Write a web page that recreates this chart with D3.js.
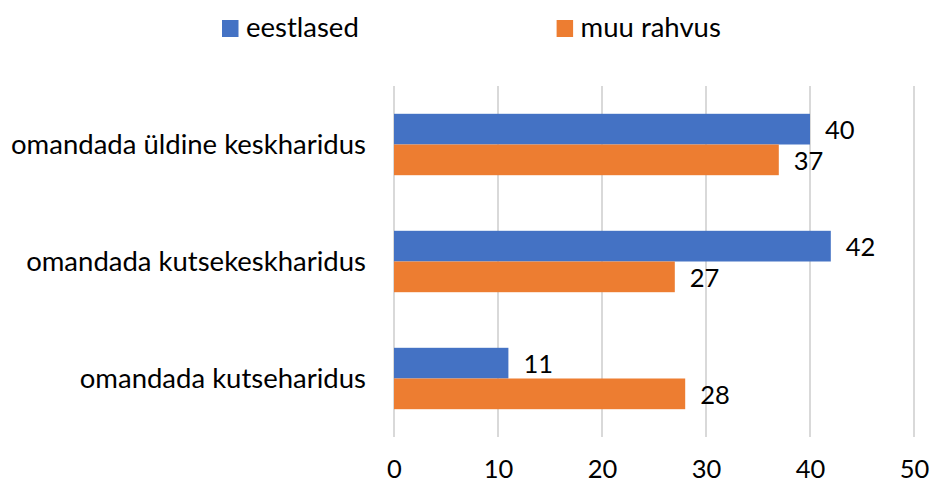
<!DOCTYPE html>
<html><head><meta charset="utf-8">
<script src="https://cdn.jsdelivr.net/npm/d3@7"></script>
<style>body{margin:0;background:#fff}svg text{font-family:Lato,"Open Sans",sans-serif;fill:#000}</style>
</head><body><svg id="c" width="932" height="485"></svg>
<script>
const categories = ["omandada üldine keskharidus","omandada kutsekeskharidus","omandada kutseharidus"];
const seriesNames = ["eestlased","muu rahvus"];
const eestlased = [40, 42, 11];
const muuRahvus = [37, 27, 28];
const tickValues = [0,10,20,30,40,50];
const colors = ["#4472C4","#ED7D31"];

const svg = d3.select("#c");
const x = d3.scaleLinear().domain([0,50]).range([394,914]);
const y = d3.scaleBand().domain(categories).range([86,437]).padding(0);
const barH = 30.7;
const fsText = 27.5;
const fsNum = 25.5;

// gridlines
svg.append("g").selectAll("line").data(tickValues).join("line")
  .attr("x1",d=>x(d)).attr("x2",d=>x(d)).attr("y1",86).attr("y2",437)
  .attr("stroke","#d9d9d9").attr("stroke-width",2);

const series = [eestlased, muuRahvus];
series.forEach((vals,si)=>{
  const g = svg.append("g");
  categories.forEach((c,i)=>{
    const y0 = y(c)+y.bandwidth()/2 - barH + si*barH;
    g.append("rect").attr("x",x(0)).attr("y",y0).attr("width",x(vals[i])-x(0)).attr("height",barH).attr("fill",colors[si]);
    g.append("text").attr("x",x(vals[i])+15).attr("y",y0+barH/2).attr("dy","0.4em")
      .attr("font-size",fsNum).text(vals[i]);
  });
});

// category labels
svg.append("g").selectAll("text").data(categories).join("text")
  .attr("x",366).attr("y",d=>y(d)+y.bandwidth()/2).attr("dy","0.36em")
  .attr("text-anchor","end").attr("font-size",fsText).text(d=>d);

// x axis labels
const ax = svg.append("g").attr("transform","translate(0,460)")
  .call(d3.axisBottom(x).tickValues(tickValues).tickSize(0).tickPadding(0));
ax.select(".domain").remove();
ax.selectAll("text").attr("font-size",fsNum).attr("font-family","Lato").attr("fill","#000").attr("dy","0.72em");

// legend
const legX = [222, 556.6];
seriesNames.forEach((n,i)=>{
  svg.append("rect").attr("x",legX[i]).attr("y",20).attr("width",16.5).attr("height",17).attr("fill",colors[i]);
  svg.append("text").attr("x",legX[i]+24).attr("y",27.5).attr("dy","0.36em").attr("font-size",fsText).text(n);
});
</script></body></html>
